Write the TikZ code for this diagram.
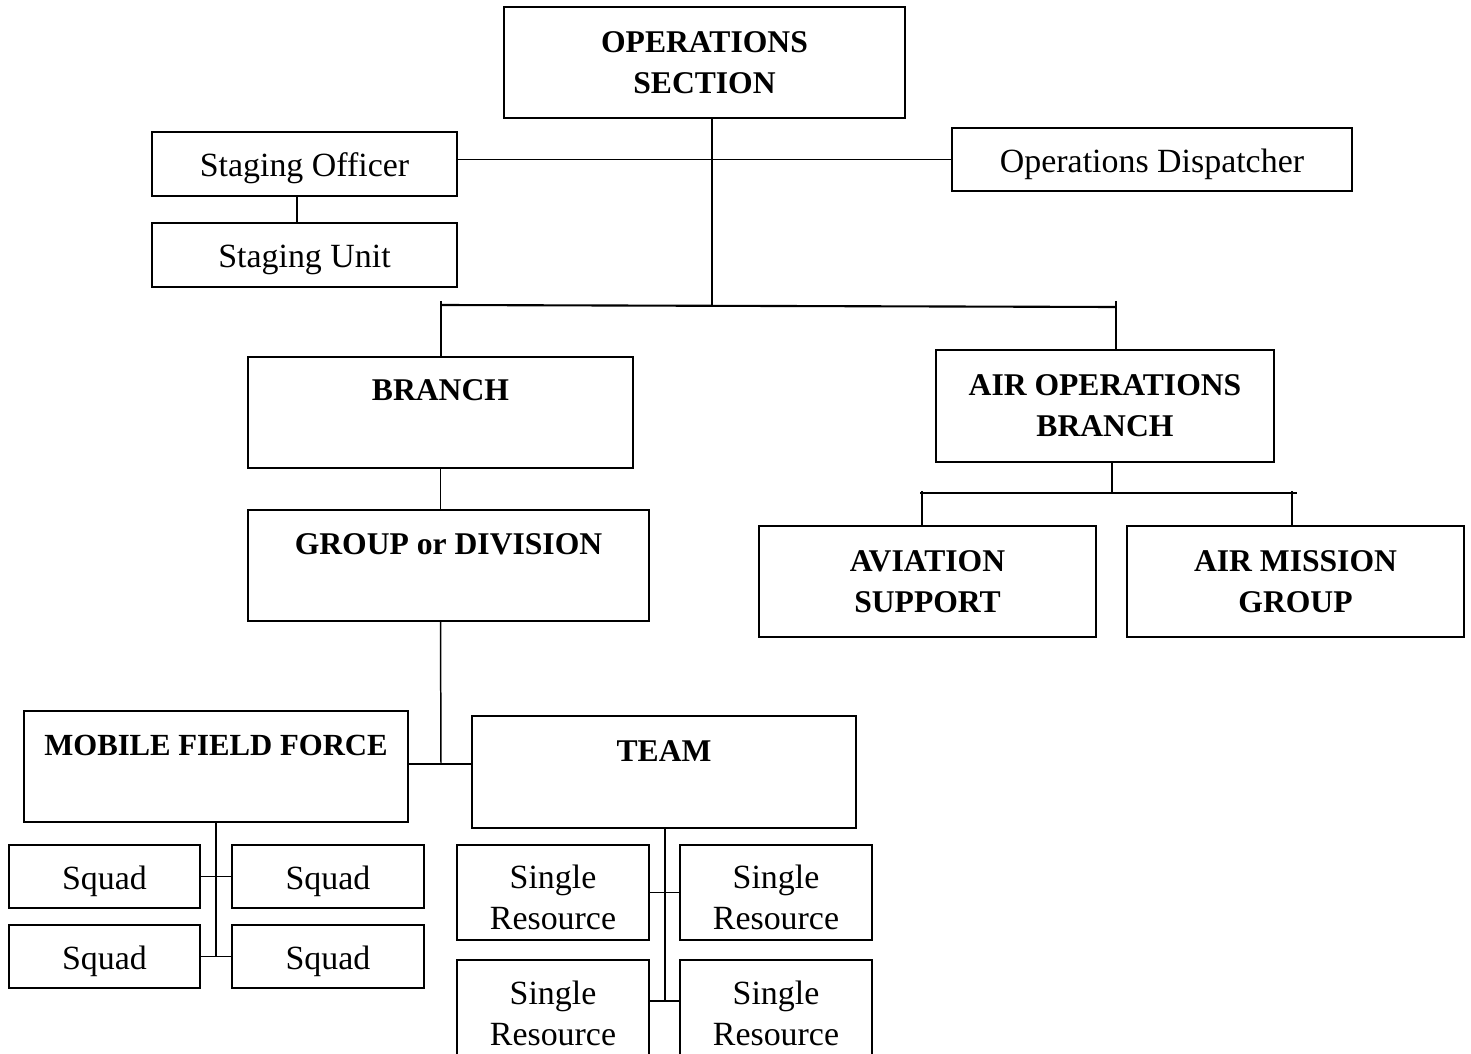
\documentclass[tikz,border=0pt]{standalone}
\usepackage{fontspec}
\setmainfont{Liberation Serif}
\usetikzlibrary{calc}
% box from its left, top, right and bottom edges
\newcommand\orgbox[7]{%
  \node[#1,minimum width={(#5-#3)*0.02cm},minimum height={(#6-#4)*0.02cm}]
    (#2) at ({(#3+#5)/2},{(#4+#6)/2}) {#7};}
\begin{document}
\begin{tikzpicture}[x=0.02cm,y=-0.02cm,
  frame/.style={draw,line width=1.1pt,rectangle,inner sep=0pt,align=center},
  box/.style={frame,text height=18.6pt,
    font=\fontsize{19.3}{23.3}\selectfont},
  hbox/.style={frame,font=\fontsize{18}{23.3}\selectfont\bfseries},
  head/.style={inner sep=0pt,font=\fontsize{18}{23.3}\selectfont\bfseries},
  lbl/.style={inner sep=0pt,align=center,font=\fontsize{19.3}{23.3}\selectfont},
  conn/.style={line width=0.85pt}]
\useasboundingbox (0,0) rectangle (1471,1054);
\clip (0,0) rectangle (1471,1054);

% top level
\orgbox{hbox}{ops}{504}{7}{905}{118}{OPERATIONS\\SECTION}
\orgbox{box}{so}{152}{132}{457}{196}{Staging Officer}
\orgbox{box}{su}{152}{223}{457}{287}{Staging Unit}
\orgbox{box}{od}{952}{128}{1352}{191}{Operations Dispatcher}

% branches
\orgbox{frame}{branch}{248}{357}{633}{468}{}
\node[head] (branch-t) at ($(branch.north)+(0,34)$) {BRANCH};
\orgbox{hbox}{air}{936}{350}{1274}{462}{AIR OPERATIONS\\BRANCH}
\orgbox{frame}{group}{248}{510}{649}{621}{}
\node[head] (group-t) at ($(group.north)+(0,35)$) {GROUP or DIVISION};
\orgbox{hbox}{avi}{759}{526}{1096}{637}{AVIATION\\SUPPORT}
\orgbox{hbox}{amg}{1127}{526}{1464}{637}{AIR MISSION\\GROUP}

% field units
\orgbox{frame}{mff}{24}{711}{408}{822}{}
\node[head,font=\fontsize{17.5}{23.3}\selectfont\bfseries] (mff-t)
  at ($(mff.north)+(0,35)$) {MOBILE FIELD FORCE};
\orgbox{frame}{team}{472}{716}{856}{828}{}
\node[head] (team-t) at ($(team.north)+(0,36)$) {TEAM};

\orgbox{box}{sq1}{9}{845}{200}{908}{Squad}
\orgbox{box}{sq2}{232}{845}{424}{908}{Squad}
\orgbox{box}{sq3}{9}{925}{200}{988}{Squad}
\orgbox{box}{sq4}{232}{925}{424}{988}{Squad}

\orgbox{frame}{sr1}{457}{845}{649}{940}{}
\orgbox{frame}{sr2}{680}{845}{872}{940}{}
\orgbox{frame}{sr3}{457}{960}{649}{1057}{}
\orgbox{frame}{sr4}{680}{960}{872}{1057}{}
\foreach \n in {sr1,sr2,sr3,sr4}
  \node[lbl] (\n-t) at ($(\n.center)+(0,5)$) {Single\\Resource};

% junction points
\coordinate (bar-l) at (441,305);
\coordinate (bar-r) at (1116,307);
\coordinate (air-l) at (920,493);
\coordinate (air-r) at (1297,493);
\coordinate (gx) at (441,764);
\coordinate (mx) at (216,956);
\coordinate (tx) at (665,1001);

% connectors
\draw[conn] (712,0 |- ops.south) -- (712,0 |- bar-r);
\draw[conn] (so.east |- od.west) -- (od.west);
\draw[conn] (so.south -| 297,0) -- (297,0 |- su.north);
\draw[conn,line width=1.2pt] (bar-l) -- (bar-r);
\draw[conn] ($(bar-l)+(0,-4)$) -- (bar-l |- branch.north);
\draw[conn] ($(bar-r)+(0,-6)$) -- (bar-r |- air.north);
\draw[conn] (branch.south) -- (branch.south |- group.north);
\draw[conn] (branch.south |- group.south) -- (gx);
\draw[conn] (mff.east |- gx) -- (team.west |- gx);

\draw[conn] (air.south -| 1112,0) -- (1112,493);
\draw[conn,line width=1.2pt] (air-l) -- (air-r);
\draw[conn] (922,491) -- (922,0 |- avi.north);
\draw[conn] (1292,491) -- (1292,0 |- amg.north);

\draw[conn] (mff.south -| mx) -- (mx);
\draw[conn,line width=1.1pt] (sq1.east) -- (sq2.west);
\draw[conn,line width=1.1pt] (sq3.east) -- (sq4.west);

\draw[conn] (team.south -| tx) -- (tx);
\draw[conn,line width=1.1pt] (sr1.east) -- (sr2.west);
\draw[conn,line width=1.1pt] (sr3.east |- tx) -- (sr4.west |- tx);
\end{tikzpicture}
\end{document}
